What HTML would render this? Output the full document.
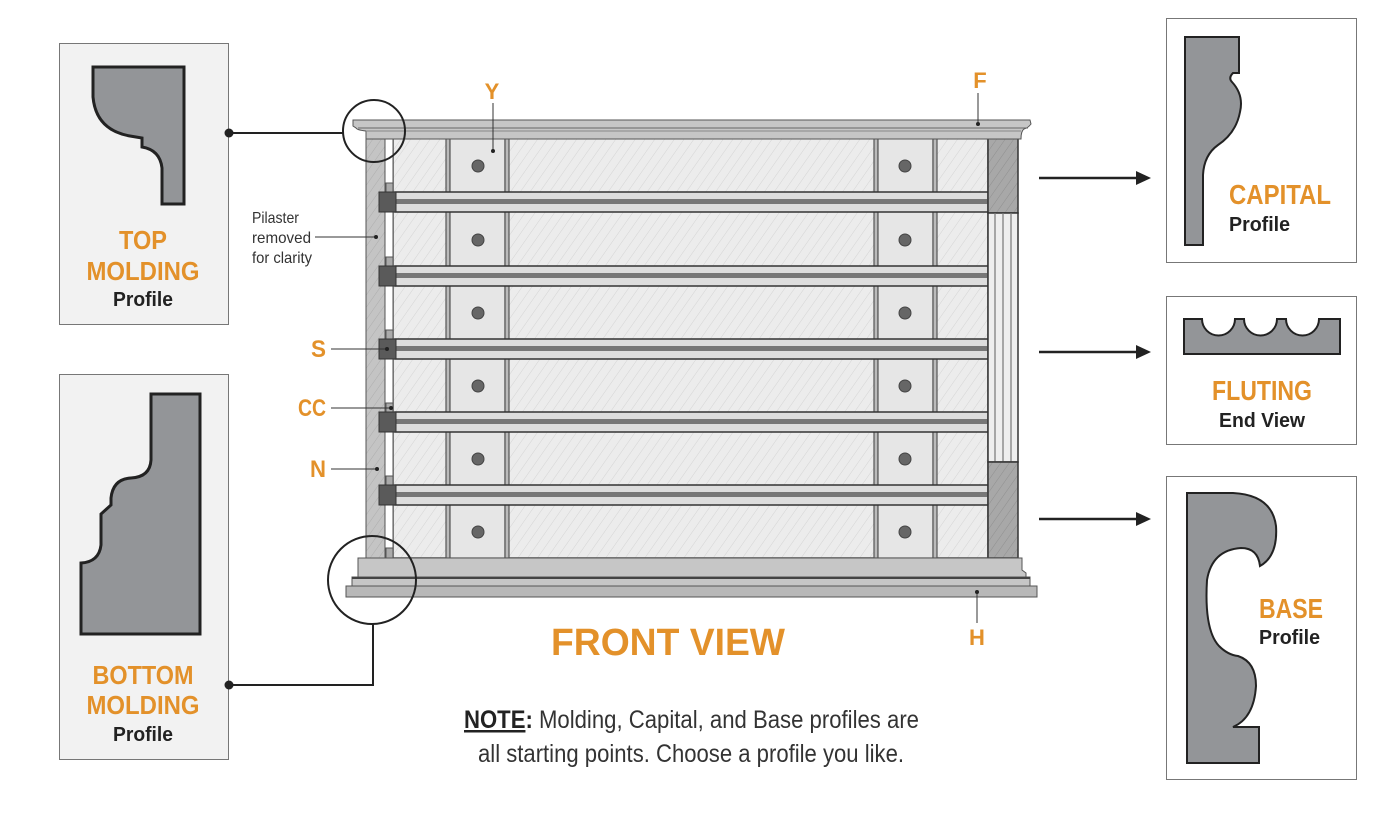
<!DOCTYPE html>
<html><head><meta charset="utf-8"><style>
html,body{margin:0;padding:0;background:#fff;}
svg{display:block;}
.o{fill:#E3912A;font-family:"Liberation Sans Narrow","Liberation Sans",sans-serif;font-weight:bold;}
.k{fill:#222;font-family:"Liberation Sans Narrow","Liberation Sans",sans-serif;font-weight:bold;}
.t{fill:#333;font-family:"Liberation Sans Narrow","Liberation Sans",sans-serif;}
</style></head><body>
<svg width="1400" height="818" viewBox="0 0 1400 818" xmlns="http://www.w3.org/2000/svg">
<defs>
<pattern id="h" width="8" height="8" patternUnits="userSpaceOnUse" patternTransform="rotate(35)">
<rect width="8" height="8" fill="#ececec"/><line x1="0" y1="0" x2="0" y2="8" stroke="#d4d4d4" stroke-width="1"/></pattern>
<pattern id="hd" width="7" height="7" patternUnits="userSpaceOnUse" patternTransform="rotate(35)">
<rect width="7" height="7" fill="#a8a8a8"/><line x1="0" y1="0" x2="0" y2="7" stroke="#8f8f8f" stroke-width="1"/></pattern>
<pattern id="hp" width="7" height="7" patternUnits="userSpaceOnUse" patternTransform="rotate(35)">
<rect width="7" height="7" fill="#c4c4c4"/><line x1="0" y1="0" x2="0" y2="7" stroke="#adadad" stroke-width="1"/></pattern>
<marker id="ar" markerWidth="16" markerHeight="16" refX="2" refY="8" orient="auto" markerUnits="userSpaceOnUse"><path d="M0,1 L15,8 L0,15Z" fill="#222"/></marker>
</defs>

<!-- left boxes -->
<rect x="59.5" y="43.5" width="169" height="281" fill="#f2f2f2" stroke="#777"/>
<rect x="59.5" y="374.5" width="169" height="385" fill="#f2f2f2" stroke="#777"/>
<path d="M93,67 H184 V204 H162 V168 Q160,150 142,147 V138 L130,136 Q96,130 93,97 Z" fill="#939598" stroke="#222" stroke-width="3"/>
<path d="M151,394 H200 V634 H81 V563 Q99,562 101,545 V514 L111,505 V498 Q113,479 131,478 Q150,477 151,460 Z" fill="#939598" stroke="#222" stroke-width="3"/>
<text class="o" x="143" y="249" font-size="26" text-anchor="middle" textLength="48" lengthAdjust="spacingAndGlyphs">TOP</text>
<text class="o" x="143" y="280" font-size="26" text-anchor="middle" textLength="113" lengthAdjust="spacingAndGlyphs">MOLDING</text>
<text class="k" x="143" y="306" font-size="20" text-anchor="middle" textLength="60" lengthAdjust="spacingAndGlyphs">Profile</text>
<text class="o" x="143" y="684" font-size="26" text-anchor="middle" textLength="101" lengthAdjust="spacingAndGlyphs">BOTTOM</text>
<text class="o" x="143" y="714" font-size="26" text-anchor="middle" textLength="113" lengthAdjust="spacingAndGlyphs">MOLDING</text>
<text class="k" x="143" y="741" font-size="20" text-anchor="middle" textLength="60" lengthAdjust="spacingAndGlyphs">Profile</text>

<!-- right boxes -->
<rect x="1166.5" y="18.5" width="190" height="244" fill="#fff" stroke="#777"/>
<rect x="1166.5" y="296.5" width="190" height="148" fill="#fff" stroke="#777"/>
<rect x="1166.5" y="476.5" width="190" height="303" fill="#fff" stroke="#777"/>
<path d="M1185,37 H1239 V73 H1233 Q1228,78 1232,82 Q1244,95 1240,112 Q1236,133 1218,145 Q1204,155 1203,175 V245 H1185 Z" fill="#939598" stroke="#222" stroke-width="2"/>
<path d="M1184,319 H1202 A16.5,16.5 0 0 0 1235,319 H1244 A16.5,16.5 0 0 0 1277,319 H1286 A16.5,16.5 0 0 0 1319,319 H1340 V354 H1184 Z" fill="#939598" stroke="#222" stroke-width="2"/>
<path d="M1187,493 H1233 Q1272,495 1276,526 Q1278,556 1260,566 Q1258,548 1241,548 Q1212,550 1207,580 Q1204,630 1219,646 Q1228,655 1238,656 Q1256,662 1256,686 Q1254,718 1233,727 H1259 V763 H1187 Z" fill="#939598" stroke="#222" stroke-width="2"/>
<text class="o" x="1229" y="204" font-size="28" textLength="102" lengthAdjust="spacingAndGlyphs">CAPITAL</text>
<text class="k" x="1229" y="231" font-size="20" textLength="61" lengthAdjust="spacingAndGlyphs">Profile</text>
<text class="o" x="1262" y="400" font-size="28" text-anchor="middle" textLength="100" lengthAdjust="spacingAndGlyphs">FLUTING</text>
<text class="k" x="1262" y="427" font-size="20" text-anchor="middle" textLength="86" lengthAdjust="spacingAndGlyphs">End View</text>
<text class="o" x="1259" y="618" font-size="28" textLength="64" lengthAdjust="spacingAndGlyphs">BASE</text>
<text class="k" x="1259" y="644" font-size="20" textLength="61" lengthAdjust="spacingAndGlyphs">Profile</text>

<!-- arrows -->
<line x1="1039" y1="178" x2="1138" y2="178" stroke="#222" stroke-width="2.5" marker-end="url(#ar)"/>
<line x1="1039" y1="352" x2="1138" y2="352" stroke="#222" stroke-width="2.5" marker-end="url(#ar)"/>
<line x1="1039" y1="519" x2="1138" y2="519" stroke="#222" stroke-width="2.5" marker-end="url(#ar)"/>

<!-- panel -->
<rect x="393" y="138" width="595" height="420" fill="url(#h)" stroke="#444" stroke-width="1.5"/>
<g stroke="#555" stroke-width="1.2">
<rect x="446" y="138" width="4" height="420" fill="#bbb"/>
<rect x="450" y="138" width="55" height="420" fill="#e6e6e6"/>
<rect x="505" y="138" width="4" height="420" fill="#bbb"/>
<rect x="874" y="138" width="4" height="420" fill="#bbb"/>
<rect x="878" y="138" width="55" height="420" fill="#e6e6e6"/>
<rect x="933" y="138" width="4" height="420" fill="#bbb"/>
</g>
<g fill="#666" stroke="#444">
<circle cx="478" cy="166" r="6"/><circle cx="905" cy="166" r="6"/>
<circle cx="478" cy="240" r="6"/><circle cx="905" cy="240" r="6"/>
<circle cx="478" cy="313" r="6"/><circle cx="905" cy="313" r="6"/>
<circle cx="478" cy="386" r="6"/><circle cx="905" cy="386" r="6"/>
<circle cx="478" cy="459" r="6"/><circle cx="905" cy="459" r="6"/>
<circle cx="478" cy="532" r="6"/><circle cx="905" cy="532" r="6"/>
</g>
<rect x="366" y="138" width="19" height="420" fill="url(#hp)" stroke="#555"/>
<rect x="385" y="138" width="8" height="420" fill="#fff" stroke="#555"/>
<g>
<g id="rail">
<rect x="386" y="183" width="7" height="10" fill="#aaa" stroke="#555"/>
<rect x="395" y="192" width="593" height="20" fill="#ddd" stroke="#333" stroke-width="1.5"/>
<rect x="395" y="199" width="593" height="5" fill="#777"/>
<rect x="379" y="192" width="17" height="20" fill="#5a5a5a" stroke="#333"/>
</g>
<use href="#rail" y="74"/>
<use href="#rail" y="147"/>
<use href="#rail" y="220"/>
<use href="#rail" y="293"/>
<rect x="386" y="548" width="7" height="10" fill="#aaa" stroke="#555"/>
</g>
<rect x="988" y="138" width="30" height="75" fill="url(#hd)" stroke="#333" stroke-width="1.5"/>
<rect x="988" y="213" width="30" height="249" fill="#eee" stroke="#333" stroke-width="1.5"/>
<g stroke="#777" stroke-width="1.2"><line x1="995" y1="213" x2="995" y2="462"/><line x1="1003" y1="213" x2="1003" y2="462"/><line x1="1011" y1="213" x2="1011" y2="462"/></g>
<rect x="988" y="462" width="30" height="96" fill="url(#hd)" stroke="#333" stroke-width="1.5"/>
<path d="M353,120 H1030 L1031,124 Q1028,128 1024,129 Q1021,131 1021,139 H366 V131 Q357,130 356,128 L353,126 Z" fill="#c6c6c6" stroke="#555"/>
<line x1="358" y1="128" x2="1028" y2="128" stroke="#666"/>
<line x1="366" y1="131" x2="1021" y2="131" stroke="#888"/>
<path d="M358,558 H1022 V570 L1026,573 V577 H358 Z" fill="#c6c6c6" stroke="#555"/>
<rect x="352" y="577" width="678" height="9" fill="#c6c6c6" stroke="#555"/>
<rect x="346" y="586" width="691" height="11" fill="#b8b8b8" stroke="#555"/>
<line x1="352" y1="578" x2="1030" y2="578" stroke="#444" stroke-width="2"/>

<circle cx="374" cy="131" r="31" fill="none" stroke="#222" stroke-width="2"/>
<circle cx="372" cy="580" r="44" fill="none" stroke="#222" stroke-width="2"/>
<polyline points="229,133 343,133" fill="none" stroke="#222" stroke-width="2"/>
<circle cx="229" cy="133" r="4.5" fill="#222"/>
<polyline points="229,685 373,685 373,624" fill="none" stroke="#222" stroke-width="2"/>
<circle cx="229" cy="685" r="4.5" fill="#222"/>

<text class="o" x="492" y="99" font-size="22" text-anchor="middle">Y</text>
<line x1="493" y1="103" x2="493" y2="150" stroke="#333"/><circle cx="493" cy="151" r="2" fill="#222"/>
<text class="o" x="980" y="88" font-size="22" text-anchor="middle">F</text>
<line x1="978" y1="93" x2="978" y2="124" stroke="#333"/><circle cx="978" cy="124" r="2" fill="#222"/>
<text class="o" x="977" y="645" font-size="22" text-anchor="middle">H</text>
<line x1="977" y1="592" x2="977" y2="623" stroke="#333"/><circle cx="977" cy="592" r="2" fill="#222"/>
<text class="t" x="252" y="223" font-size="16" textLength="47" lengthAdjust="spacingAndGlyphs">Pilaster</text>
<text class="t" x="252" y="243" font-size="16" textLength="59" lengthAdjust="spacingAndGlyphs">removed</text>
<text class="t" x="252" y="263" font-size="16" textLength="60" lengthAdjust="spacingAndGlyphs">for clarity</text>
<line x1="315" y1="237" x2="376" y2="237" stroke="#333"/><circle cx="376" cy="237" r="2" fill="#222"/>
<text class="o" x="326" y="357" font-size="24" text-anchor="end" textLength="15" lengthAdjust="spacingAndGlyphs">S</text>
<line x1="331" y1="349" x2="387" y2="349" stroke="#333"/><circle cx="387" cy="349" r="2" fill="#222"/>
<text class="o" x="326" y="416" font-size="24" text-anchor="end" textLength="28" lengthAdjust="spacingAndGlyphs">CC</text>
<line x1="331" y1="408" x2="391" y2="408" stroke="#333"/><circle cx="391" cy="408" r="2" fill="#222"/>
<text class="o" x="326" y="477" font-size="24" text-anchor="end" textLength="16" lengthAdjust="spacingAndGlyphs">N</text>
<line x1="331" y1="469" x2="377" y2="469" stroke="#333"/><circle cx="377" cy="469" r="2" fill="#222"/>

<text x="668" y="655" font-size="38" text-anchor="middle" textLength="234" lengthAdjust="spacingAndGlyphs" style="fill:#E3912A;font-family:'Liberation Sans',sans-serif;font-weight:bold;">FRONT VIEW</text>
<text class="t" x="464" y="728" font-size="25" textLength="455" lengthAdjust="spacingAndGlyphs"><tspan style="font-weight:bold;fill:#222;text-decoration:underline">NOTE</tspan><tspan style="font-weight:bold;fill:#222">:</tspan> Molding, Capital, and Base profiles are</text>
<text class="t" x="691" y="762" font-size="25" text-anchor="middle" textLength="426" lengthAdjust="spacingAndGlyphs">all starting points. Choose a profile you like.</text>
</svg>
</body></html>
